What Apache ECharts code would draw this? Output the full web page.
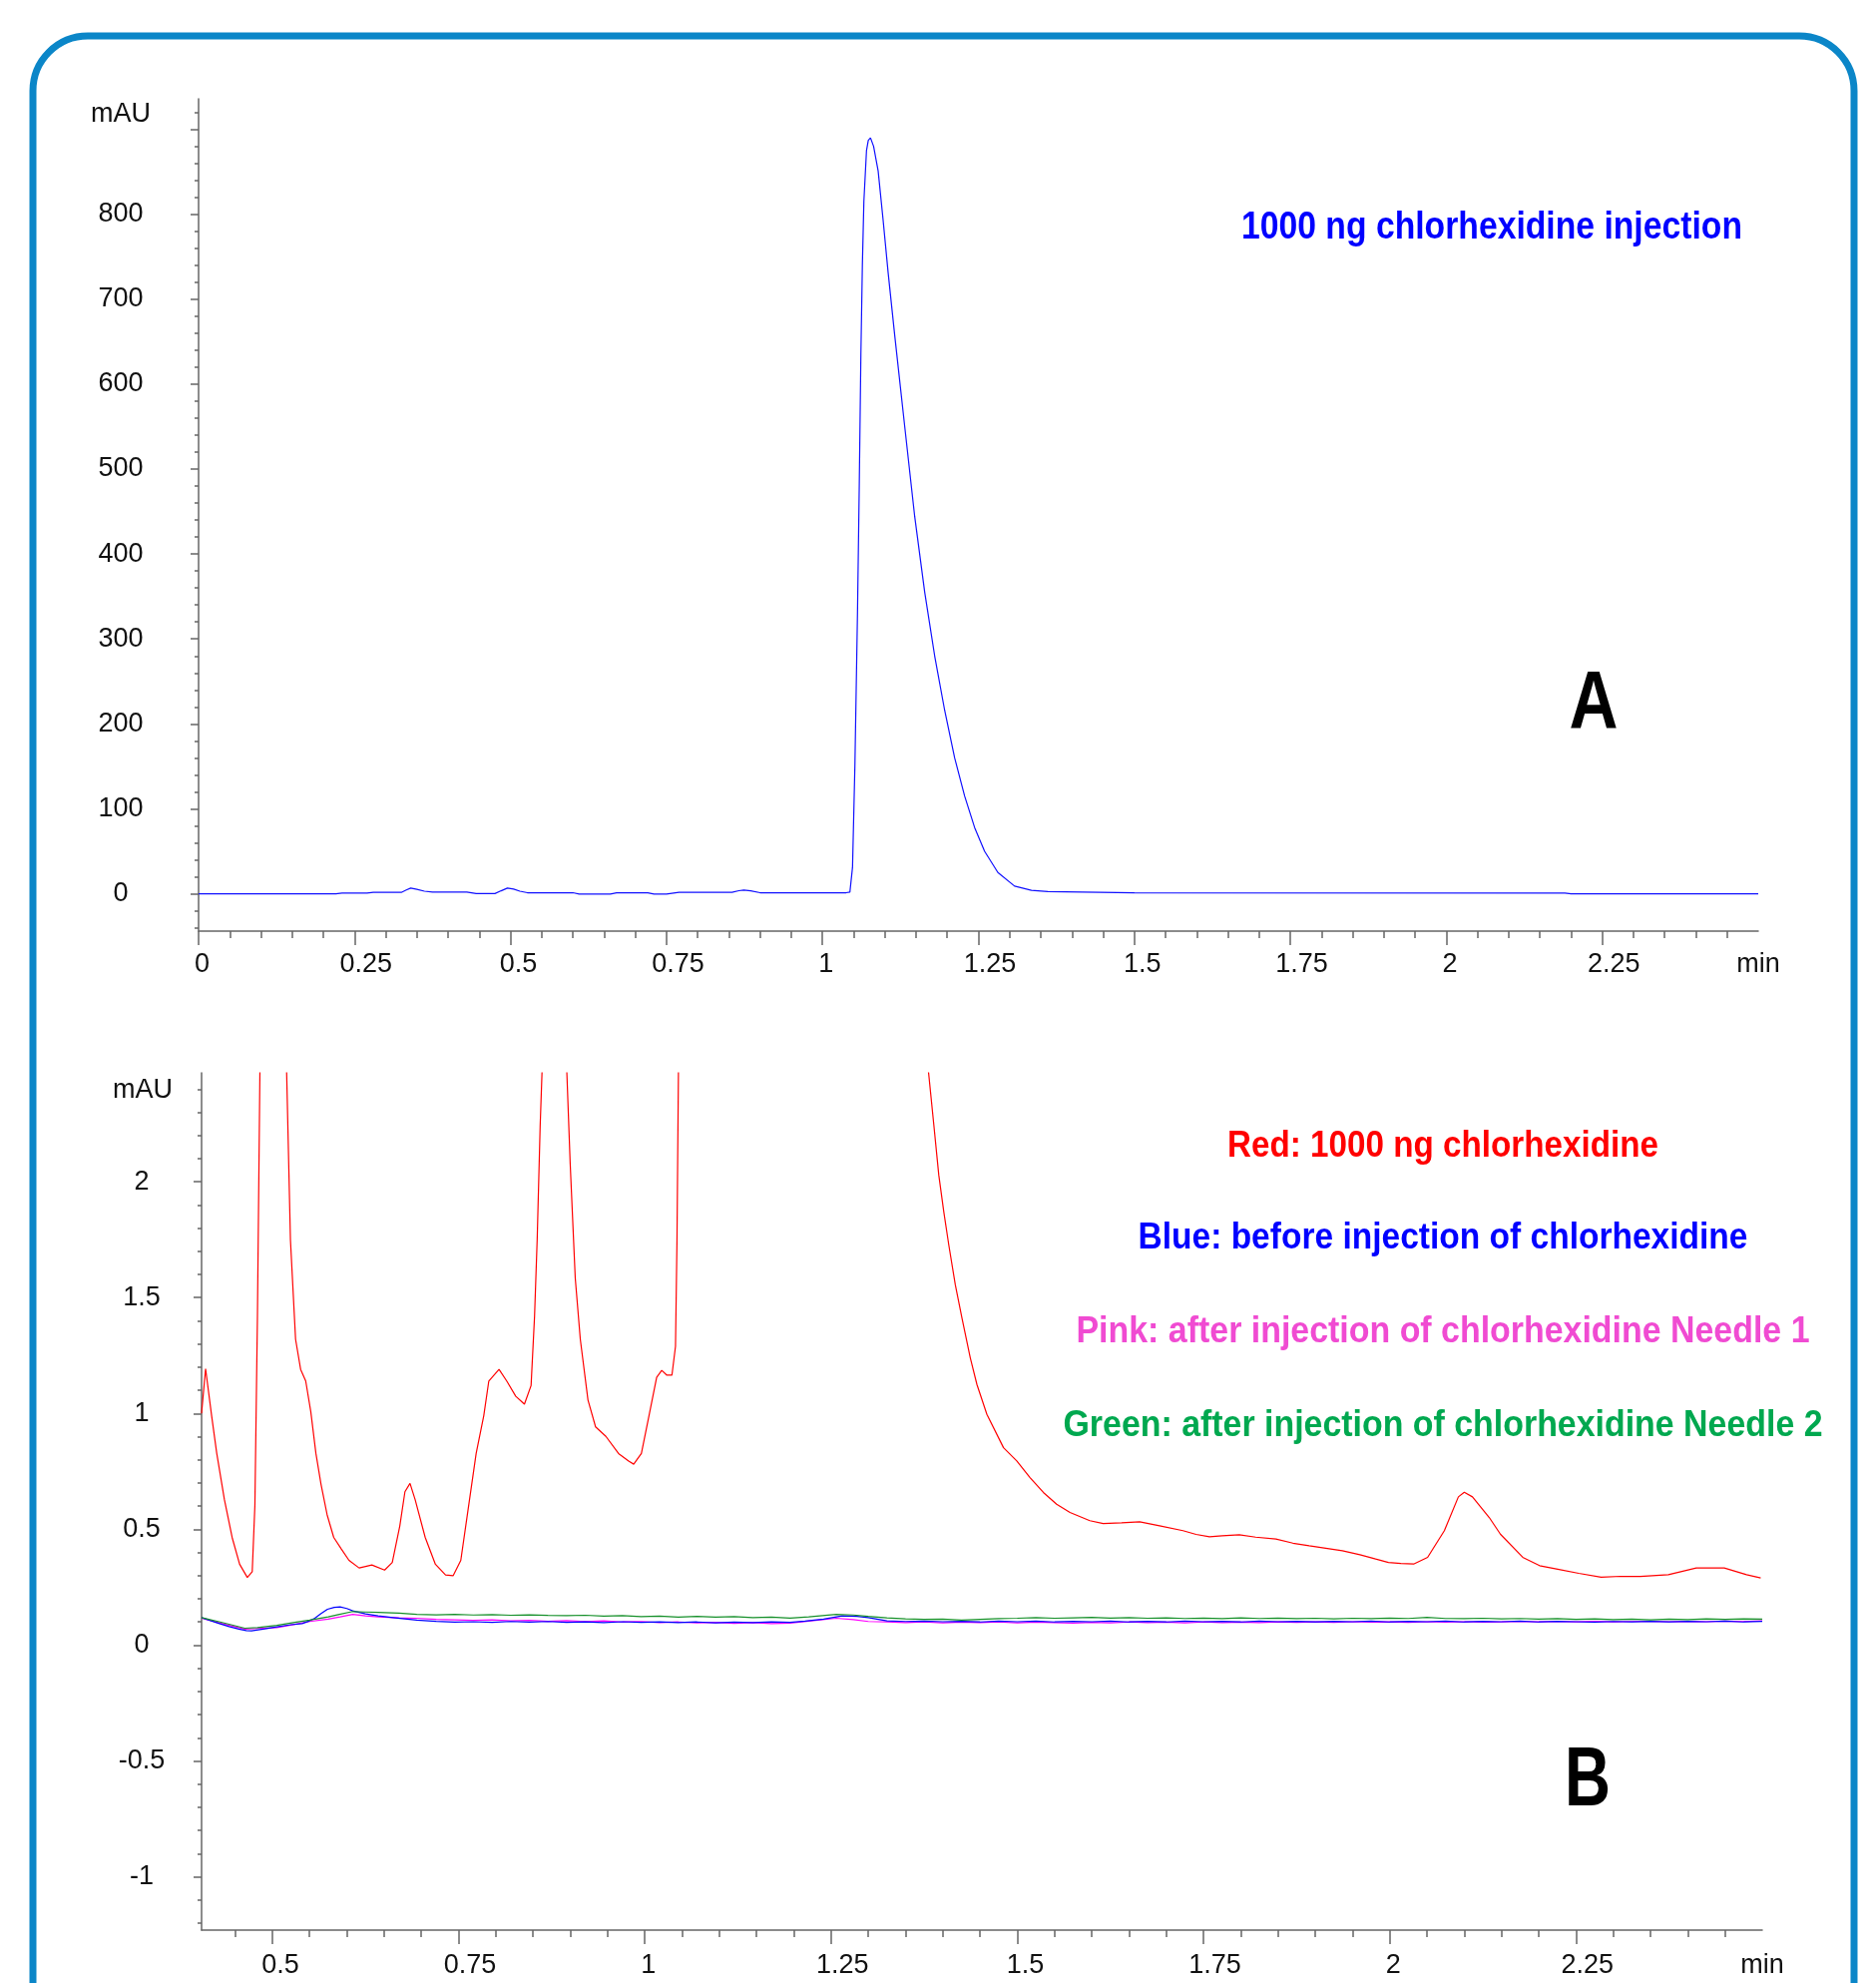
<!DOCTYPE html>
<html>
<head>
<meta charset="utf-8">
<script src="https://cdn.jsdelivr.net/npm/echarts@6/dist/echarts.min.js"></script>
<style>html,body{margin:0;padding:0;background:#fff}#c{width:1880px;height:1987px}</style>
</head>
<body>
<div id="c"></div>
<script>
// ---------------- Panel A data ----------------
const A_X_MIN = 0, A_X_MAX = 2.5;
const A_Y_MIN = -44, A_Y_MAX = 936;
const A_X_LABELS = [0, 0.25, 0.5, 0.75, 1, 1.25, 1.5, 1.75, 2, 2.25];
const A_Y_LABELS = [0, 100, 200, 300, 400, 500, 600, 700, 800];
const A_Y_MAJOR = [0, 100, 200, 300, 400, 500, 600, 700, 800, 900];
const A_TRACE = [
  [0,0],[0.1,0],[0.22,0],[0.23,0.8],[0.27,0.8],[0.28,1.6],[0.325,1.6],[0.333,4.5],[0.34,6.7],[0.35,5.2],
  [0.362,3],[0.375,2],[0.43,2],[0.445,0.3],[0.475,0.2],[0.485,3.5],[0.495,6.7],[0.505,5.5],[0.515,3],
  [0.527,1.2],[0.6,1.2],[0.61,-0.4],[0.66,-0.4],[0.67,1],[0.72,1],[0.73,-0.4],[0.75,-0.4],[0.77,1.6],
  [0.855,1.6],[0.866,3.6],[0.874,4.3],[0.885,3.5],[0.9,1.2],[1.038,1.2],
  [1.044,2],[1.0482,31],[1.052,150],[1.0562,332],[1.059,480],[1.0616,634],[1.064,740],[1.0664,815],
  [1.0706,875],[1.0735,887],[1.077,890],[1.082,880],[1.0893,851],[1.097,795],[1.1052,732],[1.1159,657],
  [1.1319,550],[1.1479,444],[1.1639,355],[1.1799,280],[1.1959,216],[1.2119,160],[1.2279,115],[1.2439,78],
  [1.2599,50],[1.2812,25],[1.3079,9],[1.335,4],[1.3612,2.5],[1.5,1.2],[2.19,0.8],[2.2,0],[2.5,0]
];

// ---------------- Panel B data ----------------
const B_X_MIN = 0.405, B_X_MAX = 2.5;
const B_Y_MIN = -1.23, B_Y_MAX = 2.47;
const B_X_LABELS = [0.5, 0.75, 1, 1.25, 1.5, 1.75, 2, 2.25];
const B_Y_LABELS = [-1, -0.5, 0, 0.5, 1, 1.5, 2];
const B_RED = [
  [0.405,1.0],[0.4104,1.193],[0.4185,0.99],[0.4254,0.827],[0.4356,0.629],[0.446,0.465],[0.4561,0.349],
  [0.4664,0.292],[0.473,0.317],[0.4766,0.605],[0.480,1.42],[0.4834,2.5],[0.519,2.5],[0.5243,1.75],
  [0.5312,1.32],[0.538,1.19],[0.5448,1.14],[0.5516,1.008],[0.5585,0.827],[0.5653,0.695],[0.5735,0.563],
  [0.5824,0.465],[0.5926,0.415],[0.6029,0.366],[0.6165,0.333],[0.6336,0.346],[0.6507,0.324],[0.661,0.357],
  [0.6711,0.514],[0.678,0.662],[0.6848,0.698],[0.6916,0.629],[0.7052,0.465],[0.7189,0.349],[0.7325,0.303],
  [0.7428,0.3],[0.753,0.366],[0.7633,0.597],[0.7736,0.827],[0.7838,0.99],[0.7906,1.14],[0.8043,1.19],
  [0.8146,1.14],[0.8268,1.074],[0.8384,1.04],[0.8473,1.12],[0.852,1.42],[0.8555,1.75],[0.8595,2.24],
  [0.8623,2.5],[0.895,2.5],[0.8998,2.08],[0.9066,1.585],[0.9134,1.32],[0.9237,1.058],[0.9339,0.942],
  [0.9477,0.901],[0.9647,0.827],[0.9783,0.794],[0.9851,0.781],[0.9954,0.827],[1.0056,0.99],[1.0159,1.156],
  [1.0227,1.186],[1.0296,1.165],[1.0364,1.165],[1.0412,1.29],[1.0432,1.75],[1.0452,2.5],[1.380,2.5],
  [1.388,2.244],[1.3946,2.029],[1.4013,1.871],[1.408,1.728],[1.4168,1.555],[1.4257,1.412],[1.4369,1.24],
  [1.4458,1.125],[1.4592,0.996],[1.4815,0.852],[1.4993,0.795],[1.5171,0.723],[1.535,0.659],[1.5528,0.608],
  [1.5707,0.5725],[1.5974,0.537],[1.6153,0.525],[1.64,0.528],[1.6643,0.532],[1.691,0.515],[1.7224,0.494],
  [1.74,0.478],[1.758,0.468],[1.775,0.472],[1.798,0.4765],[1.82,0.466],[1.8472,0.4577],[1.87,0.44],
  [1.8918,0.429],[1.9364,0.4075],[1.96,0.39],[1.981,0.3715],[1.9982,0.357],[2.015,0.352],[2.032,0.35],
  [2.0508,0.379],[2.0733,0.494],[2.0921,0.64],[2.1,0.66],[2.111,0.64],[2.1335,0.551],[2.1485,0.479],
  [2.1785,0.379],[2.2011,0.343],[2.2237,0.329],[2.2537,0.31],[2.2837,0.293],[2.31,0.297],[2.3363,0.296],
  [2.3739,0.304],[2.4115,0.333],[2.449,0.333],[2.479,0.304],[2.4979,0.29]
];
const B_BLUE = [
  [0.405,0.119],[0.415,0.108],[0.429,0.093],[0.442,0.08],[0.455,0.069],[0.465,0.063],[0.472,0.062],[0.49,0.07],
  [0.506,0.079],[0.525,0.088],[0.54,0.093],[0.55,0.105],[0.557,0.116],[0.565,0.135],[0.574,0.155],[0.583,0.163],
  [0.591,0.165],[0.6,0.158],[0.608,0.148],[0.625,0.135],[0.642,0.126],[0.665,0.118],[0.694,0.108],
  [0.72,0.103],[0.745,0.099],[0.77,0.101],[0.795,0.098],[0.82,0.102],[0.845,0.099],[0.87,0.102],[0.895,0.098],
  [0.92,0.1],[0.945,0.097],[0.97,0.101],[0.995,0.098],[1.02,0.1],[1.045,0.097],[1.07,0.1],[1.095,0.096],
  [1.12,0.099],[1.145,0.097],[1.17,0.1],[1.195,0.098],[1.215,0.104],[1.24,0.112],[1.265,0.126],[1.285,0.124],
  [1.3,0.119],[1.325,0.105],[1.35,0.102],[1.375,0.104],[1.4,0.101],[1.425,0.103],[1.45,0.1],[1.475,0.104],
  [1.5,0.101],[1.525,0.104],[1.55,0.1],[1.575,0.103],[1.6,0.101],[1.625,0.104],[1.65,0.1],[1.675,0.103],
  [1.7,0.1],[1.725,0.104],[1.75,0.101],[1.775,0.103],[1.8,0.1],[1.825,0.104],[1.85,0.101],[1.875,0.103],
  [1.9,0.1],[1.925,0.103],[1.95,0.101],[1.975,0.104],[2.0,0.1],[2.025,0.103],[2.05,0.101],[2.075,0.104],
  [2.1,0.1],[2.125,0.103],[2.15,0.101],[2.175,0.104],[2.2,0.1],[2.225,0.103],[2.25,0.101],[2.275,0.099],
  [2.3,0.102],[2.325,0.1],[2.35,0.103],[2.375,0.1],[2.4,0.103],[2.425,0.101],[2.45,0.104],[2.475,0.1],[2.5,0.103]
];
const B_PINK = [
  [0.405,0.116],[0.43,0.095],[0.463,0.069],[0.48,0.072],[0.506,0.076],[0.53,0.09],[0.55,0.102],[0.575,0.112],
  [0.591,0.122],[0.608,0.133],[0.625,0.126],[0.642,0.122],[0.67,0.118],[0.694,0.116],[0.72,0.111],
  [0.745,0.109],[0.77,0.107],[0.795,0.109],[0.82,0.105],[0.845,0.107],[0.87,0.103],[0.895,0.106],[0.92,0.102],
  [0.945,0.105],[0.97,0.1],[0.995,0.102],[1.02,0.097],[1.045,0.1],[1.07,0.096],[1.095,0.098],[1.12,0.094],
  [1.145,0.097],[1.17,0.093],[1.195,0.095],[1.22,0.104],[1.257,0.116],[1.28,0.11],[1.3,0.102],[1.325,0.1],
  [1.35,0.097],[1.375,0.1],[1.4,0.096],[1.425,0.099],[1.45,0.097],[1.475,0.1],[1.5,0.096],[1.525,0.099],
  [1.55,0.097],[1.575,0.095],[1.6,0.098],[1.625,0.096],[1.65,0.1],[1.675,0.097],[1.7,0.099],[1.725,0.096],
  [1.75,0.1],[1.775,0.097],[1.8,0.099],[1.825,0.097],[1.85,0.1],[1.875,0.098],[1.9,0.1],[1.925,0.098],
  [1.95,0.101],[1.975,0.099],[2.0,0.1],[2.025,0.098],[2.05,0.101],[2.075,0.099],[2.1,0.101],[2.125,0.099],
  [2.15,0.1],[2.175,0.102],[2.2,0.1],[2.225,0.102],[2.25,0.1],[2.275,0.103],[2.3,0.1],[2.325,0.102],
  [2.35,0.103],[2.375,0.101],[2.4,0.103],[2.425,0.101],[2.45,0.104],[2.475,0.102],[2.5,0.105]
];
const B_GREEN = [
  [0.405,0.119],[0.43,0.1],[0.463,0.073],[0.48,0.076],[0.506,0.085],[0.53,0.098],[0.55,0.108],[0.575,0.122],
  [0.59,0.133],[0.608,0.145],[0.625,0.143],[0.642,0.141],[0.67,0.138],[0.694,0.133],[0.72,0.131],
  [0.745,0.133],[0.77,0.13],[0.795,0.132],[0.82,0.129],[0.845,0.131],[0.87,0.128],[0.895,0.127],[0.92,0.129],
  [0.945,0.125],[0.97,0.127],[0.995,0.123],[1.02,0.125],[1.045,0.121],[1.07,0.124],[1.095,0.121],[1.12,0.123],
  [1.145,0.119],[1.17,0.121],[1.195,0.117],[1.22,0.122],[1.257,0.133],[1.28,0.13],[1.3,0.124],[1.325,0.118],
  [1.35,0.113],[1.375,0.111],[1.4,0.112],[1.425,0.108],[1.45,0.111],[1.475,0.114],[1.5,0.116],[1.525,0.119],
  [1.55,0.116],[1.575,0.118],[1.6,0.12],[1.625,0.117],[1.65,0.119],[1.675,0.116],[1.7,0.118],[1.725,0.115],
  [1.75,0.117],[1.775,0.114],[1.8,0.118],[1.825,0.115],[1.85,0.117],[1.875,0.114],[1.9,0.116],[1.925,0.113],
  [1.95,0.116],[1.975,0.114],[2.0,0.117],[2.025,0.115],[2.05,0.12],[2.075,0.115],[2.1,0.114],[2.125,0.116],
  [2.15,0.113],[2.175,0.115],[2.2,0.112],[2.225,0.114],[2.25,0.111],[2.275,0.113],[2.3,0.11],[2.325,0.112],
  [2.35,0.109],[2.375,0.112],[2.4,0.11],[2.425,0.113],[2.45,0.111],[2.475,0.113],[2.5,0.112]
];

// texts
const A_TITLE = '1000 ng chlorhexidine injection';
const B_LEGEND = [
  'Red: 1000 ng chlorhexidine',
  'Blue: before injection of chlorhexidine',
  'Pink: after injection of chlorhexidine Needle 1',
  'Green: after injection of chlorhexidine Needle 2'
];
const Y_UNIT = 'mAU', X_UNIT = 'min';

// ---------------- helpers ----------------
function steps(from, to, step) {
  const out = [];
  const n = Math.round((to - from) / step);
  for (let i = 0; i <= n; i++) out.push(Math.round((from + i * step) * 1000) / 1000);
  return out;
}
const A_X_MINOR = steps(0.05, 2.45, 0.05);
const A_Y_MINOR = steps(-40, 920, 20);
const B_X_MINOR = steps(0.45, 2.45, 0.05);
const B_Y_MINOR = steps(-1.2, 2.4, 0.1);

const AX = '#666';
const FS = 27;
const LABEL_FONT = { fontFamily: 'Liberation Sans, Arial, sans-serif', fontSize: FS, color: '#111' };
const BOLD = '"Liberation Sans", Arial, sans-serif';

function xMajor(grid, min, max, labels, margin) {
  return {
    type: 'value', gridIndex: grid, min: min, max: max, position: 'bottom',
    axisLine: { show: true, onZero: false, lineStyle: { color: AX, width: 1.5 } },
    axisTick: { show: true, inside: false, length: 14, customValues: labels, lineStyle: { color: AX, width: 1.5 } },
    axisLabel: Object.assign({ show: true, margin: margin, customValues: labels.concat([max]),
      formatter: function (v) {
        if (v >= max - 1e-9) return '{n|' + X_UNIT + '}';
        const s = String(v);
        return '{p' + s.length + '| }{n|' + s + '}';
      },
      rich: {
        n: { fontFamily: LABEL_FONT.fontFamily, fontSize: FS, color: '#111' },
        p1: { width: 7 }, p3: { width: 16 }, p4: { width: 23 }
      } }, LABEL_FONT),
    splitLine: { show: false }
  };
}
function xMinor(grid, min, max, ticks) {
  return {
    type: 'value', gridIndex: grid, min: min, max: max, position: 'bottom',
    axisLine: { show: false, onZero: false },
    axisTick: { show: true, inside: false, length: 7, customValues: ticks, lineStyle: { color: AX, width: 1.5 } },
    axisLabel: { show: false }, splitLine: { show: false }
  };
}
function yMajor(grid, min, max, labels, ticks, margin) {
  return {
    type: 'value', gridIndex: grid, min: min, max: max, position: 'left',
    axisLine: { show: true, onZero: false, lineStyle: { color: AX, width: 1.5 } },
    axisTick: { show: true, inside: false, length: 8, customValues: ticks, lineStyle: { color: AX, width: 1.5 } },
    axisLabel: Object.assign({ show: true, margin: margin, align: 'center', customValues: labels }, LABEL_FONT),
    splitLine: { show: false }
  };
}
function yMinor(grid, min, max, ticks) {
  return {
    type: 'value', gridIndex: grid, min: min, max: max, position: 'left',
    axisLine: { show: false, onZero: false },
    axisTick: { show: true, inside: false, length: 4, customValues: ticks, lineStyle: { color: AX, width: 1.5 } },
    axisLabel: { show: false }, splitLine: { show: false }
  };
}
function line(name, data, color, xi, yi) {
  return { name: name, type: 'line', data: data, xAxisIndex: xi, yAxisIndex: yi, showSymbol: false,
    symbol: 'none', smooth: false, clip: true,
    lineStyle: { color: color, width: 1.2 }, emphasis: { disabled: true }, animation: false };
}
// measure text to condense it horizontally to the reference's narrow bold face
const mctx = document.createElement('canvas').getContext('2d');
function txt(text, x, y, size, fill, targetW) {
  const font = 'bold ' + size + 'px ' + BOLD;
  mctx.font = font;
  const w = mctx.measureText(text).width || 1;
  const sx = targetW ? targetW / w : 1;
  return { type: 'text', x: x, y: y, scaleX: sx, silent: true, z: 10,
    style: { text: text, font: font, fill: fill, align: 'center', verticalAlign: 'middle',
      textAlign: 'center', textVerticalAlign: 'middle' } };
}
function plain(text, x, y) {
  return { type: 'text', x: x, y: y, silent: true, z: 10,
    style: { text: text, font: FS + 'px "Liberation Sans", Arial, sans-serif', fill: '#111',
      align: 'center', verticalAlign: 'middle', textAlign: 'center', textVerticalAlign: 'middle' } };
}

const chart = echarts.init(document.getElementById('c'), null, { renderer: 'canvas' });
chart.setOption({
  animation: false,
  backgroundColor: '#ffffff',
  textStyle: { fontFamily: 'Liberation Sans, Arial, sans-serif' },
  grid: [
    { left: 199, top: 99, width: 1563, height: 834, containLabel: false, outerBoundsMode: 'none' },
    { left: 202, top: 1075, width: 1564, height: 859, containLabel: false, outerBoundsMode: 'none' }
  ],
  xAxis: [
    xMajor(0, A_X_MIN, A_X_MAX, A_X_LABELS, 20),
    xMinor(0, A_X_MIN, A_X_MAX, A_X_MINOR),
    xMajor(1, B_X_MIN, B_X_MAX, B_X_LABELS, 22),
    xMinor(1, B_X_MIN, B_X_MAX, B_X_MINOR)
  ],
  yAxis: [
    yMajor(0, A_Y_MIN, A_Y_MAX, A_Y_LABELS, A_Y_MAJOR, 78),
    yMinor(0, A_Y_MIN, A_Y_MAX, A_Y_MINOR),
    yMajor(1, B_Y_MIN, B_Y_MAX, B_Y_LABELS, B_Y_LABELS, 60),
    yMinor(1, B_Y_MIN, B_Y_MAX, B_Y_MINOR)
  ],
  series: [
    line('A: 1000 ng chlorhexidine', A_TRACE, '#1010ff', 0, 0),
    line('Red', B_RED, '#ff0000', 2, 2),
    line('Pink', B_PINK, '#ff00ff', 2, 2),
    line('Blue', B_BLUE, '#0000ff', 2, 2),
    line('Green', B_GREEN, '#16902a', 2, 2)
  ],
  graphic: [
    { type: 'rect', silent: true, z: 0,
      shape: { x: 33, y: 36, width: 1825, height: 2200, r: 55 },
      style: { fill: null, stroke: '#0b86c8', lineWidth: 7 } },
    plain(Y_UNIT, 121, 115),
    plain(Y_UNIT, 143, 1093),
    txt(A_TITLE, 1495, 229, 38, '#0000ff', 502),
    txt('A', 1597, 706, 82, '#000000', 49),
    txt(B_LEGEND[0], 1446, 1149, 37, '#ff0000', 432),
    txt(B_LEGEND[1], 1446, 1241, 37, '#0000ff', 611),
    txt(B_LEGEND[2], 1446, 1335, 37, '#f04bd2', 735),
    txt(B_LEGEND[3], 1446, 1429, 37, '#00a84f', 761),
    txt('B', 1591, 1786, 84, '#000000', 46)
  ]
});
</script>
</body>
</html>
